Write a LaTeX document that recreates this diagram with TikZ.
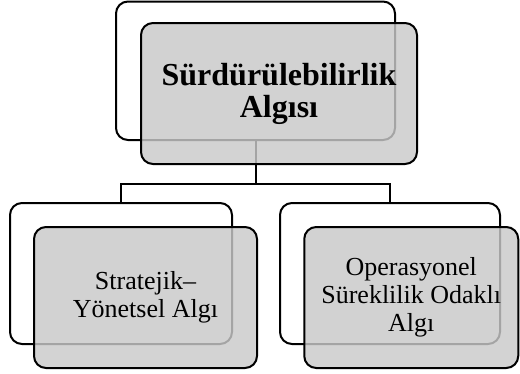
\documentclass[tikz,border=0pt]{standalone}
\usepackage{fontspec}
\setmainfont{Liberation Serif}
\begin{document}
\begin{tikzpicture}[x=1pt,y=-1pt,
  backbox/.style={draw=black, line width=2pt, rounded corners=12pt, fill=white,
    rectangle, inner sep=0pt, outer sep=0pt},
  frontbox/.style={draw=black, line width=2pt, rounded corners=12pt,
    fill=black!21, fill opacity=0.82, text opacity=1, draw opacity=1,
    rectangle, inner sep=0pt, outer sep=0pt, align=center},
  link/.style={draw=black, line width=2pt},
  toplabel/.style={font=\fontsize{32}{32}\selectfont\bfseries},
  sublabel/.style={font=\fontsize{26}{28}\selectfont}]
\useasboundingbox (0,0) rectangle (520,373);

% back frames
\node[backbox, minimum width=279pt, minimum height=138.5pt] (tb) at (255.5,70.75) {};
\node[backbox, minimum width=222pt, minimum height=141pt] (lb) at (121,273.5) {};
\node[backbox, minimum width=220pt, minimum height=141pt] (rb) at (390,273.5) {};

% tree connectors
\coordinate (hub) at (255.5,183.5);
\draw[link] (tb.south) -- (hub);
\draw[link] (lb.north) -- (lb.north |- hub) -- (rb.north |- hub) -- (rb.north);

% front panels with the labels
\node[frontbox, toplabel, minimum width=276pt, minimum height=141pt] (tf) at (279,93.5)
  {Sürdürülebilirlik\\Algısı};
\node[frontbox, sublabel, minimum width=223pt, minimum height=141pt] (lf) at (145.5,297.5)
  {Stratejik–\\Yönetsel Algı};
\node[frontbox, sublabel, minimum width=214pt, minimum height=141pt] (rf) at (411.25,297.5)
  {Operasyonel\\Süreklilik Odaklı\\Algı};
\end{tikzpicture}
\end{document}
